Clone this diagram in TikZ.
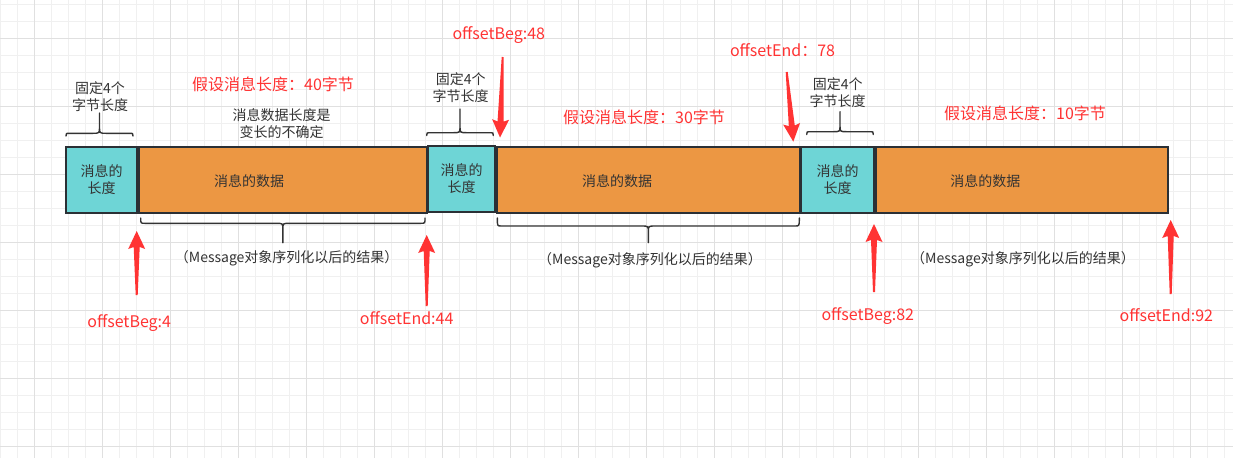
\documentclass[tikz,border=0pt]{standalone}
\usepackage{fontspec}
\newfontfamily\cjk{Noto Sans CJK SC}
\usetikzlibrary{calc}
\definecolor{cyanfill}{HTML}{6ED5D6}
\definecolor{orangefill}{HTML}{EC9743}
\definecolor{boxline}{HTML}{2B3035}
\definecolor{redc}{HTML}{FF3333}
\definecolor{txt}{HTML}{333333}
\definecolor{gridminor}{HTML}{F0F0F0}
\definecolor{gridmajor}{HTML}{E0E0E0}
\tikzset{
  lenbox/.style={draw=boxline, line width=2pt, fill=cyanfill, minimum height=66pt, inner sep=0pt, text=txt, font=\cjk\fontsize{14}{17}\selectfont, align=center},
  databox/.style={draw=boxline, line width=2pt, fill=orangefill, minimum height=66pt, inner sep=0pt},
  graytext/.style={text=txt, font=\cjk\fontsize{14}{17}\selectfont, align=center, inner sep=0pt},
  redtext/.style={text=redc, font=\cjk\fontsize{16}{19}\selectfont, inner sep=0pt},
  bracestyle/.style={draw=txt, line width=1.4pt, line cap=round},
}
\newcommand\curlybrace[5]{% x0 x1 yend yh ytip
  \pgfmathsetmacro\bxm{(#1+#2)/2}
  \pgfmathsetmacro\bdy{(#5>#4)?6:-6}
  \pgfmathsetmacro\bmy{#4+\bdy}
  \draw[bracestyle] (#1,#3) .. controls (#1,#4) .. ({#1+4},#4) -- ({\bxm-7},#4) .. controls (\bxm,#4) .. (\bxm,\bmy) -- (\bxm,#5)
    (\bxm,\bmy) .. controls (\bxm,#4) .. ({\bxm+7},#4) -- ({#2-4},#4) .. controls (#2,#4) .. (#2,#3);}
\newcommand\redarrow[2]{% tail, tip
  \fill[redc] ($(#2)!18pt!(#1)!8.5pt!90:(#1)$) -- (#2) -- ($(#2)!18pt!(#1)!8.5pt!-90:(#1)$)
    -- ($(#2)!16pt!(#1)!3pt!-90:(#1)$) -- ($(#1)!1pt!90:(#2)$) -- ($(#1)!1pt!-90:(#2)$)
    -- ($(#2)!16pt!(#1)!3pt!90:(#1)$) -- cycle;}
\begin{document}
\begin{tikzpicture}[x=1pt,y=-1pt]
\useasboundingbox (0,0) rectangle (1233,458);
\fill[white] (0,0) rectangle (1233,458);
% grid
\foreach \i in {0,...,72} \draw[gridminor, line width=1pt] ({0.3+17*\i},0) -- ({0.3+17*\i},458);
\foreach \i in {0,...,26} \draw[gridminor, line width=1pt] (0,{4.3+17*\i}) -- (1233,{4.3+17*\i});
\foreach \i in {0,...,17} \draw[gridmajor, line width=1pt] ({34.3+68*\i},0) -- ({34.3+68*\i},458);
\foreach \i in {0,...,6} \draw[gridmajor, line width=1pt] (0,{38.3+68*\i}) -- (1233,{38.3+68*\i});

% boxes
\node[databox, minimum width=288pt] (d1) at (283,180) {};
\node[lenbox, minimum width=71pt] (l1) at (101.5,180) {消息的\\长度};
\node[databox, minimum width=302.5pt] (d2) at (648.25,179.5) {};
\node[lenbox, minimum width=67pt] (l2) at (461.5,179) {消息的\\长度};
\node[databox, minimum width=292pt] (d3) at (1022,180) {};
\node[lenbox, minimum width=73pt] (l3) at (837.5,180) {消息的\\长度};

\node[graytext] (dt1) at (249,181) {消息的数据};
\node[graytext] (dt2) at (617,181.5) {消息的数据};
\node[graytext] (dt3) at (985.3,181.5) {消息的数据};

% top braces and texts
\curlybrace{66}{133}{136}{133.3}{113}
\curlybrace{426.7}{493.3}{135.5}{132.7}{109}
\curlybrace{806.7}{873.3}{134.5}{131.7}{111.7}
\node[graytext] (f1) at (100,97) {固定4个\\字节长度};
\node[graytext] (f2) at (460.7,87.5) {固定4个\\字节长度};
\node[graytext] (f3) at (837.7,92.5) {固定4个\\字节长度};
\node[graytext] (var) at (281.7,123.3) {消息数据长度是\\变长的不确定};

% bottom braces and texts
\curlybrace{140.7}{425}{218}{223.3}{242.7}
\curlybrace{497.3}{799.3}{218}{226}{242.7}
\node[graytext] (m1) at (286.7,258) {（Message对象序列化以后的结果）};
\node[graytext] (m2) at (650,260) {（Message对象序列化以后的结果）};
\node[graytext] (m3) at (1023,259) {（Message对象序列化以后的结果）};

% red size labels
\node[redtext] (s1) at (273,84) {假设消息长度：40字节};
\node[redtext] (s2) at (644,117.3) {假设消息长度：30字节};
\node[redtext] (s3) at (1025,113.3) {假设消息长度：10字节};

% offset labels
\node[redtext] (o1) at (129.2,322.7) {offsetBeg:4};
\node[redtext] (o2) at (406.7,318.3) {offsetEnd:44};
\node[redtext] (o3) at (498.8,35) {offsetBeg:48};
\node[redtext] (o4) at (782.5,50) {offsetEnd：78};
\node[redtext] (o5) at (867.8,316) {offsetBeg:82};
\node[redtext] (o6) at (1166.3,315) {offsetEnd:92};

% arrows
\coordinate (a1t) at (136.7,295); \coordinate (a1h) at (136.7,231);
\coordinate (a2t) at (426.7,306); \coordinate (a2h) at (426.7,235);
\coordinate (a3t) at (502.7,57);  \coordinate (a3h) at (500,137.5);
\coordinate (a4t) at (786.7,72);  \coordinate (a4h) at (793.3,141.7);
\coordinate (a5t) at (874,292);   \coordinate (a5h) at (874,224);
\coordinate (a6t) at (1170.7,294); \coordinate (a6h) at (1170.7,220);
\redarrow{a1t}{a1h}
\redarrow{a2t}{a2h}
\redarrow{a3t}{a3h}
\redarrow{a4t}{a4h}
\redarrow{a5t}{a5h}
\redarrow{a6t}{a6h}
\end{tikzpicture}
\end{document}
